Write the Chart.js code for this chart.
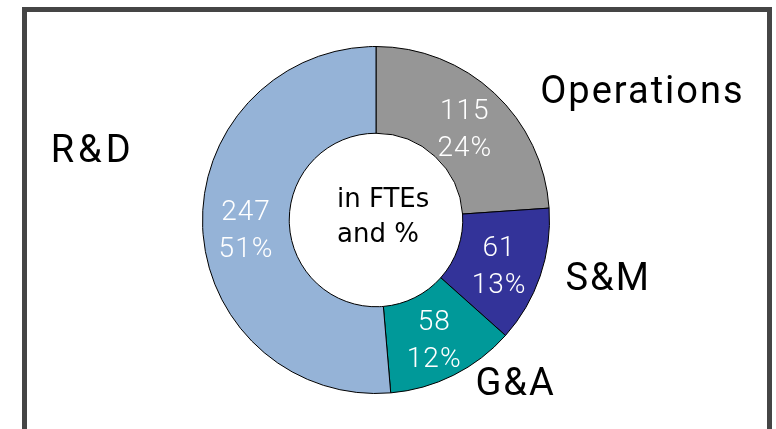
<!DOCTYPE html>
<html lang="en">
<head>
<meta charset="UTF-8" />
<title>FTEs by function</title>
<script src="https://cdn.jsdelivr.net/npm/chart.js"></script>
<style>
  html, body { margin:0; padding:0; background:#fff; }
  .wrap { position:relative; width:776px; height:429px; overflow:hidden; }
  .frame { position:absolute; left:22px; top:7px; width:740px; height:480px; border:5px solid #454545; box-sizing:content-box; }
  canvas { position:absolute; left:0; top:0; }
</style>
</head>
<body>
<div class="wrap">
  <div class="frame"></div>
  <canvas id="donut" width="776" height="429"></canvas>
</div>
<script>
// data
const categories = ['Operations', 'S&M', 'G&A', 'R&D'];
const ftes = [115, 61, 58, 247];
const shares = ['24%', '13%', '12%', '51%'];
const colors = ['#969696', '#333399', '#009999', '#95b3d7'];
const centerText = ['in FTEs', 'and %'];

// where the category names sit, relative to the outer edge of their slice
const nameOffsets = [[148, 0], [68, 4], [62, 10], [-110, -75]];

const labelPlugin = {
  id: 'labels',
  afterDatasetsDraw(chart) {
    const ctx = chart.ctx;
    const arcs = chart.getDatasetMeta(0).data;
    ctx.save();
    ctx.textAlign = 'center';
    ctx.textBaseline = 'middle';
    arcs.forEach((arc, i) => {
      const p = arc.tooltipPosition();
      ctx.fillStyle = '#fff';
      ctx.font = '300 28px Roboto';
      ctx.letterSpacing = '1px';
      ctx.fillText(String(ftes[i]), p.x, p.y - 13);
      ctx.fillText(shares[i], p.x, p.y + 24);

      const mid = (arc.startAngle + arc.endAngle) / 2;
      const ox = arc.x + Math.cos(mid) * arc.outerRadius;
      const oy = arc.y + Math.sin(mid) * arc.outerRadius;
      ctx.fillStyle = '#000';
      ctx.font = '38px Roboto';
      ctx.letterSpacing = i === 3 ? '4px' : '2px';
      ctx.fillText(categories[i], ox + nameOffsets[i][0], oy + nameOffsets[i][1]);
    });
    const a = arcs[0];
    ctx.fillStyle = '#000';
    ctx.textAlign = 'left';
    ctx.letterSpacing = '0px';
    ctx.font = '26px "DejaVu Sans"';
    ctx.fillText(centerText[0], a.x - 39, a.y - 20);
    ctx.fillText(centerText[1], a.x - 39, a.y + 15);
    ctx.restore();
  }
};

new Chart(document.getElementById('donut'), {
  type: 'doughnut',
  data: {
    labels: categories,
    datasets: [{ data: ftes, backgroundColor: colors, borderColor: '#000', borderWidth: 1 }]
  },
  options: {
    responsive: false,
    animation: false,
    cutout: '50%',
    layout: { padding: { left: 202, right: 226, top: 46, bottom: 35 } },
    plugins: { legend: { display: false }, tooltip: { enabled: false } }
  },
  plugins: [labelPlugin]
});
</script>
</body>
</html>
